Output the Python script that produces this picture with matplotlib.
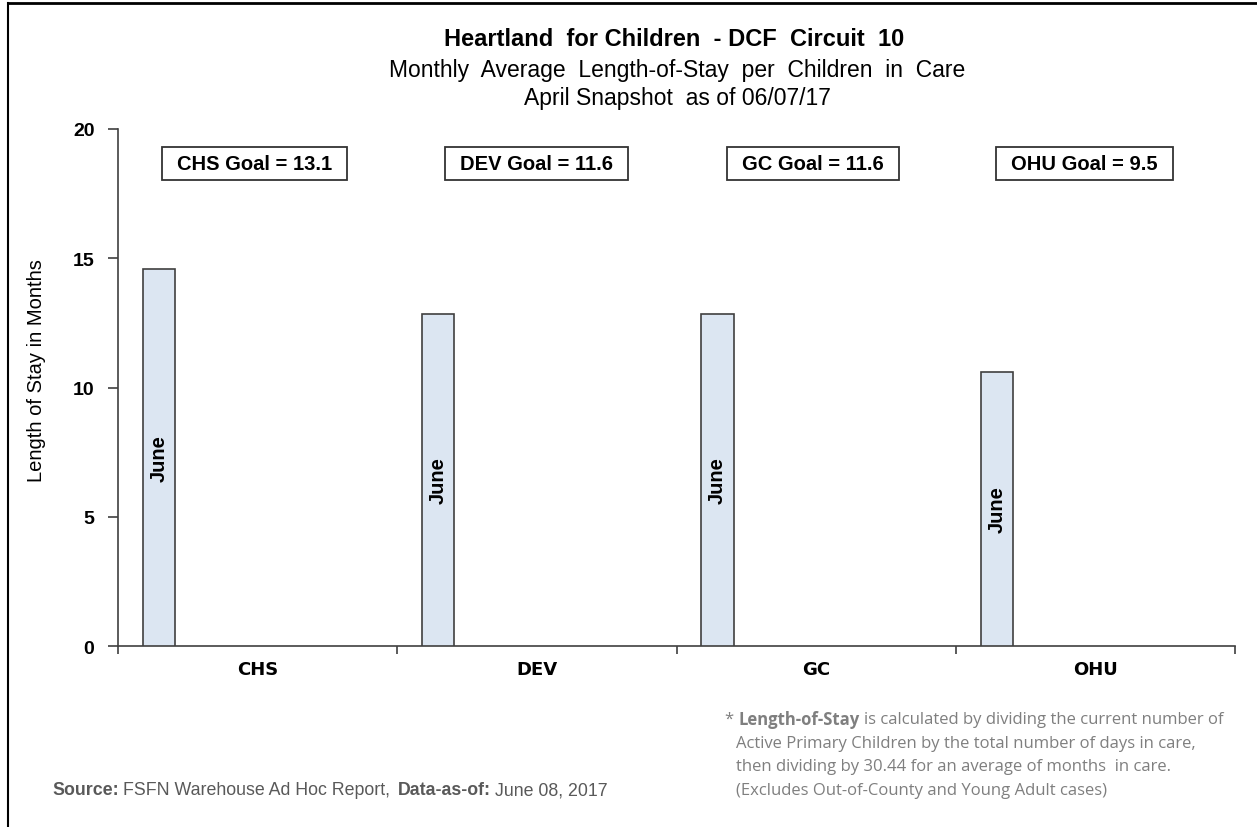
import matplotlib
matplotlib.use("Agg")
import matplotlib.pyplot as plt
from matplotlib.lines import Line2D
from matplotlib.patches import Rectangle

categories = ["CHS", "DEV", "GC", "OHU"]
june_values = [14.6, 12.85, 12.85, 10.6]
goal_labels = ["CHS Goal = 13.1", "DEV Goal = 11.6", "GC Goal = 11.6", "OHU Goal = 9.5"]
series_name = "June"
yticks = [0, 5, 10, 15, 20]

W, H = 1257, 828
fig = plt.figure(figsize=(W / 100, H / 100), dpi=100)
fig.patch.set_facecolor("white")

ax_left, ax_right, ax_top, ax_bottom = 118, 1235, 130, 647
ax = fig.add_axes([ax_left / W, 1 - ax_bottom / H, (ax_right - ax_left) / W, (ax_bottom - ax_top) / H])

font = "Liberation Sans"
x = list(range(len(categories)))
bar_w = 0.115
offset = -0.353
xs = [i + offset for i in x]
ax.bar(xs, june_values, width=bar_w, color="#DCE6F2", edgecolor="#404040", linewidth=1.2, zorder=3)

for xi, v in zip(xs, june_values):
    ax.text(xi, v / 2, series_name, rotation=90, ha="center", va="center",
            fontsize=14.5, fontweight="bold", family=font, color="black", zorder=4)

goal_texts = []
goal_dx = [-0.01, 0.0, -0.01, -0.04]
for xi, dx, lab in zip(x, goal_dx, goal_labels):
    t = ax.text(xi + dx, 18.65, lab, ha="center", va="center", fontsize=14.5, fontweight="bold",
                family=font, color="black", zorder=5)
    goal_texts.append(t)

ax.set_xlim(-0.5, len(categories) - 0.5)
ax.set_ylim(0, 20)
ax.set_yticks(yticks)
ax.set_yticklabels([str(t) for t in yticks], fontsize=14, fontweight="bold", family=font)
ax.set_xticks([i - 0.5 for i in range(len(categories) + 1)])
ax.set_xticklabels([""] * (len(categories) + 1))
ax.set_xticks(x, minor=True)
ax.set_xticklabels(categories, minor=True, fontsize=13, fontweight="bold", family="DejaVu Sans")
ax.tick_params(axis="x", which="minor", length=0, pad=10)
ax.tick_params(axis="x", which="major", length=6, width=1.2, color="#404040", direction="out")
ax.tick_params(axis="y", length=7, width=1.2, color="#404040", pad=10)
for s in ["top", "right"]:
    ax.spines[s].set_visible(False)
for s in ["left", "bottom"]:
    ax.spines[s].set_color("#404040")
    ax.spines[s].set_linewidth(1.2)
ax.set_ylabel("Length of Stay in Months", fontsize=14.5, family=font)
ax.yaxis.set_label_coords(-(118 - 46) / (ax_right - ax_left), 0.535)

# titles
fig.text(674 / W, 1 - 39 / H, "Heartland  for Children  - DCF  Circuit  10", ha="center", va="center",
         fontsize=17, fontweight="bold", family=font)
fig.text(677 / W, 1 - 71 / H, "Monthly  Average  Length-of-Stay  per  Children  in  Care", ha="center", va="center",
         fontsize=16.5, family=font)
fig.text(677 / W, 1 - 99 / H, "April Snapshot  as of 06/07/17", ha="center", va="center",
         fontsize=16.5, family=font)

fig.canvas.draw()
r = fig.canvas.get_renderer()

# goal boxes drawn around the text extents
for t in goal_texts:
    bb = t.get_window_extent(r)
    px, py = 15, 7
    rect = Rectangle((bb.x0 - px, bb.y0 - py), bb.width + 2 * px, bb.height + 2 * py,
                     transform=None, facecolor="white", edgecolor="#333333", linewidth=1.3, zorder=4)
    ax.add_artist(rect)

# footnotes
src_color = "#595959"
fs = 12.8
t1 = fig.text(52 / W, 1 - 791 / H, "Source:", ha="left", va="center", fontsize=fs, fontweight="bold",
              family=font, color=src_color)
bb = t1.get_window_extent(r)
t2 = fig.text((bb.x1 + 4) / W, 1 - 791 / H, "FSFN Warehouse Ad Hoc Report,", ha="left", va="center",
              fontsize=fs, family=font, color=src_color)
bb = t2.get_window_extent(r)
t3 = fig.text((bb.x1 + 8) / W, 1 - 791 / H, "Data-as-of:", ha="left", va="center", fontsize=fs,
              fontweight="bold", family=font, color=src_color)
bb = t3.get_window_extent(r)
fig.text((bb.x1 + 4) / W, 1 - 791 / H, "June 08, 2017", ha="left", va="center",
         fontsize=fs, family=font, color=src_color)

note_color = "#7F7F7F"
nf = "Open Sans"
nfs = 12
n1 = fig.text(725 / W, 1 - 720 / H, "* ", ha="left", va="center", fontsize=nfs, family=nf, color=note_color)
bb = n1.get_window_extent(r)
n2 = fig.text(bb.x1 / W, 1 - 720 / H, "Length-of-Stay", ha="left", va="center", fontsize=nfs,
              fontweight="bold", family=nf, color=note_color)
bb = n2.get_window_extent(r)
fig.text((bb.x1 + 4) / W, 1 - 720 / H, "is calculated by dividing the current number of", ha="left",
         va="center", fontsize=nfs, family=nf, color=note_color)
note_lines = ["Active Primary Children by the total number of days in care,",
              "then dividing by 30.44 for an average of months  in care.",
              "(Excludes Out-of-County and Young Adult cases)"]
for k, line in enumerate(note_lines):
    fig.text(736 / W, 1 - (744 + 23.5 * k) / H, line, ha="left", va="center", fontsize=nfs,
             family=nf, color=note_color)

# outer frame (top and left)
fig.add_artist(Line2D([8 / W, 1], [1 - 4 / H, 1 - 4 / H], color="black", linewidth=2, transform=fig.transFigure))
fig.add_artist(Line2D([8 / W, 8 / W], [1 - 4 / H, 0], color="black", linewidth=1.5, transform=fig.transFigure))

fig.savefig("out.png", dpi=100)
